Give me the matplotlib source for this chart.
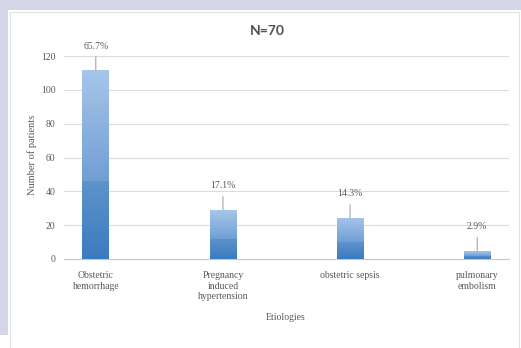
import numpy as np
import matplotlib
matplotlib.use("Agg")
import matplotlib.pyplot as plt
from matplotlib.patches import Rectangle
from matplotlib.colors import LinearSegmentedColormap

categories = ["Obstetric\nhemorrhage", "Pregnancy\ninduced\nhypertension", "obstetric sepsis", "pulmonary\nembolism"]
counts = [46, 12, 10, 2]
percents = [65.7, 17.1, 14.3, 2.9]
pct_labels = ["65.7%", "17.1%", "14.3%", "2.9%"]
yticks = [0, 20, 40, 60, 80, 100, 120]

W, H = 521, 348
fig = plt.figure(figsize=(W / 100, H / 100), dpi=100)
fig.patch.set_facecolor("white")

def px_rect(x0, y0, x1, y1, **kw):
    # pixel coords from top-left
    fig.patches.append(Rectangle((x0 / W, 1 - y1 / H), (x1 - x0) / W, (y1 - y0) / H,
                                 transform=fig.transFigure, figure=fig, zorder=-10, **kw))

lav = "#d5d5e8"
px_rect(0, 0, W, 10, facecolor=lav, edgecolor="none")
px_rect(0, 0, 8, 335, facecolor=lav, edgecolor="none")
px_rect(10, 12, 519, 360, facecolor="white", edgecolor="#e2e2e2", linewidth=0.8)

ax = fig.add_axes([64 / W, 89 / H, 445 / W, 203 / H])
ax.set_facecolor("none")
ax.set_zorder(1)
x = np.arange(len(categories))
width = 0.21

bottom_cmap = LinearSegmentedColormap.from_list("b", ["#3a7bbf", "#6092cb"])
top_cmap = LinearSegmentedColormap.from_list("t", ["#709fd4", "#a8c5ea"])

for xi, c, p in zip(x, counts, percents):
    b1 = ax.bar(xi, c, width, color="#4a86c6", edgecolor="none", zorder=3)[0]
    b2 = ax.bar(xi, p, width, bottom=c, color="#8db2e0", edgecolor="none", zorder=3)[0]
    grad = np.linspace(0, 1, 256).reshape(-1, 1)
    im1 = ax.imshow(grad, extent=[xi - width / 2, xi + width / 2, 0, c], origin="lower",
                    cmap=bottom_cmap, aspect="auto", zorder=4)
    im1.set_clip_path(b1)
    im2 = ax.imshow(grad, extent=[xi - width / 2, xi + width / 2, c, c + p], origin="lower",
                    cmap=top_cmap, aspect="auto", zorder=4)
    im2.set_clip_path(b2)

for xi, c, p, lab in zip(x, counts, percents, pct_labels):
    ax.annotate(lab, xy=(xi, c + p), xytext=(0, 14), textcoords="offset points",
                ha="center", va="bottom", fontsize=7, color="#595959", family="Liberation Serif",
                arrowprops=dict(arrowstyle="-", color="#a6a6a6", lw=0.8, shrinkA=2.5, shrinkB=0),
                zorder=5, annotation_clip=False)

ax.set_xlim(-0.25, 3.25)
ax.set_ylim(0, 120)
ax.set_yticks(yticks)
ax.set_yticklabels([str(v) for v in yticks], fontsize=7, color="#595959", family="Liberation Serif")
ax.set_xticks(x)
ax.set_xticklabels(categories, fontsize=7, color="#595959", family="Liberation Serif", linespacing=1.15)
ax.tick_params(axis="y", length=0, pad=6)
ax.tick_params(axis="x", length=0, pad=9)
ax.grid(axis="y", color="#dcdcdc", linewidth=0.8, zorder=0)
ax.set_axisbelow(True)
for s in ["top", "right", "left"]:
    ax.spines[s].set_visible(False)
ax.spines["bottom"].set_color("#c8c8c8")
ax.spines["bottom"].set_linewidth(0.8)

fig.text(32 / W, 1 - 155 / H, "Number of patients", rotation=90, ha="center", va="center",
         fontsize=7.5, color="#595959", family="Liberation Serif")
fig.text(286 / W, 1 - 318 / H, "Etiologies", ha="center", va="center",
         fontsize=7, color="#595959", family="Liberation Serif")
fig.text(267 / W, 1 - 31 / H, "N=70", ha="center", va="center",
         fontsize=10, color="#505050", fontweight="bold", family="Lato")

fig.savefig("out.png", dpi=100)
